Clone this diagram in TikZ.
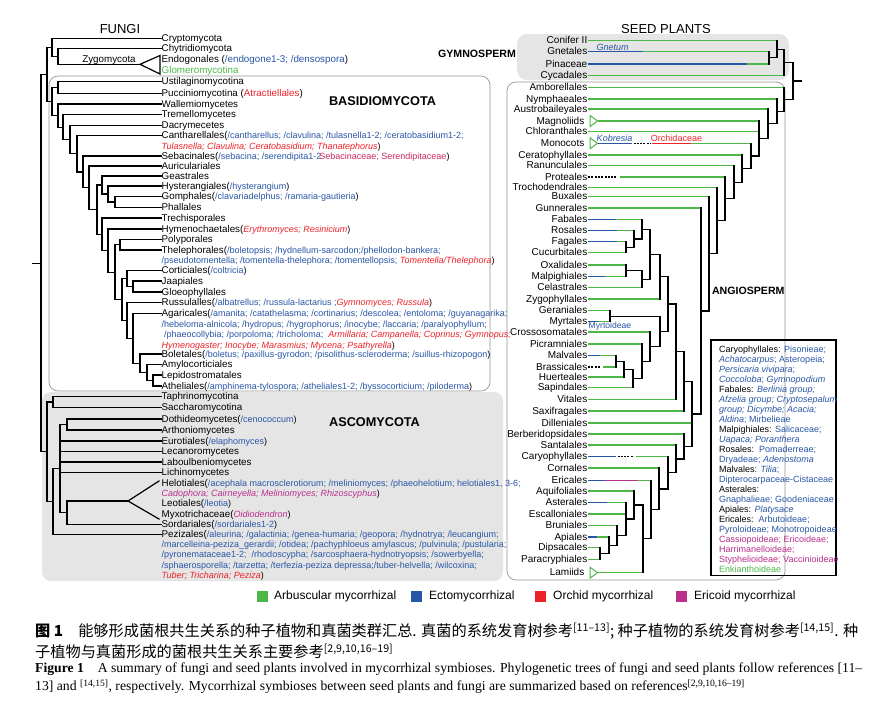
\documentclass[tikz,border=0pt]{standalone}
\usepackage{graphicx}
\usepackage{fontspec}
\setmainfont{Liberation Sans}
\newfontfamily\serifen{Liberation Serif}
\newfontfamily\cjk{Noto Sans CJK SC}
\definecolor{amg}{RGB}{77,184,72}
\definecolor{ecb}{RGB}{40,86,166}
\definecolor{orr}{RGB}{236,34,40}
\definecolor{erm}{RGB}{186,46,140}
\definecolor{seb}{RGB}{206,40,100}
\definecolor{boxg}{RGB}{229,229,229}
\definecolor{boxl}{RGB}{150,150,150}
\newcommand\eb[1]{\textcolor{ecb}{#1}}
\newcommand\ebi[1]{\textcolor{ecb}{\itshape #1}}
\newcommand\ri[1]{\textcolor{orr}{\itshape #1}}
\newcommand\mgi[1]{\textcolor{erm}{\itshape #1}}
\newcommand\an{\fontsize{9}{9}\selectfont}
\newcommand\cladeNode[4]{\draw[br] (#1,#2) -- (#1,#3) (#1,{(#2+#3)/2}) -- (#4,{(#2+#3)/2});}
\tikzset{
 br/.style={line width=1.2pt, black, line cap=rect},
 gbr/.style={line width=1.4pt, amg},
 bbr/.style={line width=1.4pt, ecb},
 rbr/.style={line width=1.4pt, orr},
 mbr/.style={line width=1.4pt, erm},
 dsh/.style={line width=1.1pt, black, dash pattern=on 2pt off 1.3pt},
 tri/.style={line width=1pt, amg},
 fl/.style={anchor=west, inner sep=0.5pt, text height=7.2pt, text depth=0.8pt, font=\fontsize{9.8}{10}\selectfont},
 sl/.style={anchor=east, inner sep=0.5pt, text height=7.2pt, text depth=0.8pt, font=\fontsize{10}{10}\selectfont},
 lg/.style={anchor=west, inner sep=0pt, text height=6.5pt, text depth=0.5pt, font=\fontsize{9}{9}\selectfont},
 lgb/.style={anchor=west, inner sep=0pt, font=\fontsize{12}{12}\selectfont},
 ttl/.style={font=\fontsize{13}{13}\selectfont},
 bttl/.style={font=\bfseries\fontsize{12.7}{13}\selectfont},
 sttl/.style={font=\bfseries\fontsize{10.6}{11}\selectfont},
}
\begin{document}
\begin{tikzpicture}[x=1pt,y=-1pt]
\useasboundingbox (0,0) rectangle (888,705);
\fill[white] (0,0) rectangle (888,705);
% ---------- boxes
\fill[boxg, rounded corners=9pt] (42,392) rectangle (503,581);
\draw[boxl, line width=0.7pt, rounded corners=9pt] (49,76) rectangle (490,391);
\fill[boxg, rounded corners=10pt] (517,34) rectangle (789,80);
\draw[boxl, line width=0.7pt, rounded corners=9pt] (507,82) rectangle (785,580);
% ---------- titles
\node[ttl] (tF) at (120,29) {FUNGI};
\node[ttl] (tS) at (666,29) {SEED PLANTS};
\node[bttl] (tB) at (382.5,101.5) {BASIDIOMYCOTA};
\node[bttl] (tA) at (374.5,422.3) {ASCOMYCOTA};
\node[sttl] (tG) at (477,54.3) {GYMNOSPERM};
\node[sttl] (tAn) at (748.3,290.7) {ANGIOSPERM};
% ---------- fungi labels
\node[fl] (f1) at (161,38.5) {Cryptomycota};
\node[fl] (f2) at (161,48.5) {Chytridiomycota};
\node[fl] (f3) at (161,59) {Endogonales (\eb{/endogone1-3; /densospora})};
\node[fl] (f3b) at (161,70.5) {\textcolor{amg}{Glomeromycotina}};
\node[fl] (f4) at (161,81.5) {Ustilaginomycotina};
\node[fl] (f5) at (161,93.5) {Pucciniomycotina (\textcolor{orr}{Atractiellales})};
\node[fl] (f6) at (161,104) {Wallemiomycetes};
\node[fl] (f7) at (161,114.7) {Tremellomycetes};
\node[fl] (f8) at (161,125.3) {Dacrymecetes};
\node[fl] (f9) at (161,135.5) {Cantharellales(\an\eb{/cantharellus; /clavulina; /tulasnella1-2; /ceratobasidium1-2;}};
\node[fl] (f9b) at (161,146) {\an\ri{Tulasnella; Clavulina; Ceratobasidium; Thanatephorus})};
\node[fl] (f10) at (161,156) {Sebacinales(\an\eb{/sebacina; /serendipita1-2}\kern-2pt\textcolor{seb}{Sebacinaceae; Serendipitaceae})};
\node[fl] (f11) at (161,166) {Auriculariales};
\node[fl] (f12) at (161,176) {Geastrales};
\node[fl] (f13) at (161,186) {Hysterangiales(\an\eb{/hysterangium})};
\node[fl] (f14) at (161,196.5) {Gomphales(\an\eb{/clavariadelphus; /ramaria-gautieria})};
\node[fl] (f15) at (161,207.5) {Phallales};
\node[fl] (f16) at (161,218) {Trechisporales};
\node[fl] (f17) at (161,229) {Hymenochaetales(\an\ri{Erythromyces; Resinicium})};
\node[fl] (f18) at (161,239.5) {Polyporales};
\node[fl] (f19) at (161,250) {Thelephorales(\an\eb{/boletopsis; /hydnellum-sarcodon;/phellodon-bankera;}};
\node[fl] (f19b) at (161,260) {\an\eb{/pseudotomentella; /tomentella-thelephora; /tomentellopsis; }\ri{Tomentella/Thelephora})};
\node[fl] (f20) at (161,270.5) {Corticiales(\an\eb{/coltricia})};
\node[fl] (f21) at (161,281) {Jaapiales};
\node[fl] (f22) at (161,292) {Gloeophyllales};
\node[fl] (f23) at (161,302.5) {Russulalles(\an\eb{/albatrellus; /russula-lactarius ;}\ri{Gymnomyces; Russula})};
\node[fl] (f24) at (161,313.5) {Agaricales(\an\eb{ /amanita; /catathelasma; /cortinarius; /descolea; /entoloma; /guyanagarika;}};
\node[fl] (f24b) at (161,324) {\an\eb{/hebeloma-alnicola; /hydropus; /hygrophorus; /inocybe; /laccaria; /paralyophyllum;}};
\node[fl] (f24c) at (161,334.5) {\an\eb{\ /phaeocollybia; /porpoloma; /tricholoma;\ \ }\ri{Armillaria; Campanella; Coprinus; Gymnopus;}};
\node[fl] (f24d) at (161,345) {\an\ri{Hymenogaster; Inocybe; Marasmius; Mycena; Psathyrella})};
\node[fl] (f25) at (161,354) {Boletales(\an\eb{/boletus; /paxillus-gyrodon; /pisolithus-scleroderma; /suillus-rhizopogon})};
\node[fl] (f26) at (161,364.5) {Amylocorticiales};
\node[fl] (f27) at (161,375) {Lepidostromatales};
\node[fl] (f28) at (161,386) {Atheliales(\an\eb{/amphinema-tylospora; /atheliales1-2; /byssocorticium; /piloderma})};
\node[fl] (f29) at (161,396.5) {Taphrinomycotina};
\node[fl] (f30) at (161,407.5) {Saccharomycotina};
\node[fl] (f31) at (161,419) {Dothideomycetes(\an\eb{/cenococcum})};
\node[fl] (f32) at (161,430) {Arthoniomycetes};
\node[fl] (f33) at (161,441) {Eurotiales(\an\eb{/elaphomyces})};
\node[fl] (f34) at (161,451.5) {Lecanoromycetes};
\node[fl] (f35) at (161,462) {Laboulbeniomycetes};
\node[fl] (f36) at (161,472.5) {Lichinomycetes};
\node[fl] (f37) at (161,483) {Helotiales(\an\eb{/acephala macrosclerotiorum; /meliniomyces; /phaeohelotium; helotiales1, 3-6;}};
\node[fl] (f37b) at (161,493) {\an\mgi{Cadophora; Cairneyella; Meliniomyces; Rhizoscyphus})};
\node[fl] (f38) at (161,503) {Leotiales(\an\eb{/leotia})};
\node[fl] (f39) at (161,514.5) {Myxotrichaceae(\an\mgi{Oidiodendron})};
\node[fl] (f40) at (161,524.5) {Sordariales(\an\eb{/sordariales1-2})};
\node[fl] (f41) at (161,534.5) {Pezizales(\an\eb{/aleurina; /galactinia; /genea-humaria; /geopora; /hydnotrya; /leucangium;}};
\node[fl] (f41b) at (161,544.5) {\an\eb{/marcelleina-peziza\_gerardii; /otidea; /pachyphloeus amylascus; /pulvinula; /pustularia;}};
\node[fl] (f41c) at (161,554.5) {\an\eb{/pyronemataceae1-2;\ \ /rhodoscypha; /sarcosphaera-hydnotryopsis; /sowerbyella;}};
\node[fl] (f41d) at (161,565) {\an\eb{/sphaerosporella; /tarzetta; /terfezia-peziza depressa;/tuber-helvella; /wilcoxina;}};
\node[fl] (f41e) at (161,575) {\an\ri{Tuber; Tricharina; Peziza})};
\node[fl, anchor=center] (zyg) at (109,58.8) {Zygomycota};
% ---------- fungi tree
\foreach \n/\x/\y in {f1/52/38.5, f2/58/48.5, f4/58/81.5, f5/58/93.5, f6/58/104, f7/63/114.7, f8/70/125.3,
  f9/77/135.5, f10/83/156, f11/89/166, f12/102/176, f13/108/186, f14/115/196.5, f15/115/207.5,
  f16/102/218, f17/108/229, f18/120/239.5, f19/120/250, f20/127/270.5, f21/133/281, f22/133/292,
  f23/127/302.5, f24/133/313.5, f25/140/354, f26/147/364.5, f27/153/375, f28/153/386,
  f29/53/396.5, f30/53/407.5, f31/67/419, f32/67/430, f33/60/441, f34/60/451.5, f35/60/462,
  f36/60/472.5, f40/67/524.5, f41/53/534.5}
  {\draw[br] (\x,\y) -- (\n.west);}
\draw[br] (58,64.3) -- (140,64.3);
\draw[br, line join=miter] (140,64.3) -- (160,55.5) -- (160,74) -- cycle;
\draw[br] (67,501) -- (128,501);
\draw[br] (159,481) -- (128,501) -- (159,519);
\cladeNode{58}{48.5}{64.3}{52}
\cladeNode{52}{38.5}{56.4}{47}
\cladeNode{58}{81.5}{93.5}{52}
\cladeNode{153}{375}{386}{147}
\cladeNode{147}{364.5}{380.5}{140}
\cladeNode{140}{354}{372.5}{133}
\cladeNode{133}{313.5}{363.25}{127}
\cladeNode{127}{302.5}{338.375}{122}
\cladeNode{133}{281}{292}{127}
\cladeNode{127}{270.5}{286.5}{122}
\cladeNode{122}{278.5}{320.44}{115}
\cladeNode{120}{239.5}{250}{115}
\cladeNode{115}{244.75}{299.47}{108}
\cladeNode{108}{229}{272.11}{102}
\cladeNode{102}{218}{250.55}{97}
\cladeNode{115}{196.5}{207.5}{108}
\cladeNode{108}{186}{202}{102}
\cladeNode{102}{176}{194}{97}
\cladeNode{97}{185}{234.28}{89}
\cladeNode{89}{166}{209.64}{83}
\cladeNode{83}{156}{187.82}{77}
\cladeNode{77}{135.5}{171.91}{70}
\cladeNode{70}{125.3}{153.7}{63}
\cladeNode{63}{114.7}{139.5}{58}
\cladeNode{58}{104}{127.1}{52}
\cladeNode{52}{87.5}{115.55}{47}
\cladeNode{47}{47.45}{101.53}{41}
\cladeNode{53}{396.5}{407.5}{47}
\cladeNode{67}{419}{430}{60}
\cladeNode{67}{501}{524.5}{60}
\cladeNode{60}{424.5}{512.75}{53}
\cladeNode{53}{468.63}{534.5}{47}
\cladeNode{47}{402}{501.56}{41}
\cladeNode{41}{74.49}{451.78}{33}
% ---------- seed plant labels
\node[sl] (sCon) at (588,40.7) {Conifer II};
\node[sl] (sGne) at (588,51.7) {Gnetales};
\node[sl] (sPin) at (588,64) {Pinaceae};
\node[sl] (sCyc) at (588,75.7) {Cycadales};
\node[sl] (sAmb) at (588,87.7) {Amborellales};
\node[sl] (sNym) at (588,99) {Nymphaeales};
\node[sl] (sAus) at (588,109) {Austrobaileyales};
\node[sl] (sMag) at (585,121) {Magnoliids};
\node[sl] (sChl) at (588,131.7) {Chloranthales};
\node[sl] (sMon) at (585,143.3) {Monocots};
\node[sl] (sCer) at (588,155) {Ceratophyllales};
\node[sl] (sRan) at (588,165.7) {Ranunculales};
\node[sl] (sPro) at (588,177) {Proteales};
\node[sl] (sTro) at (588,187.3) {Trochodendrales};
\node[sl] (sBux) at (588,196.7) {Buxales};
\node[sl] (sGun) at (588,208) {Gunnerales};
\node[sl] (sFab) at (588,219.3) {Fabales};
\node[sl] (sRos) at (588,230.7) {Rosales};
\node[sl] (sFag) at (588,241.7) {Fagales};
\node[sl] (sCuc) at (588,252.7) {Cucurbitales};
\node[sl] (sOxa) at (588,265) {Oxalidales};
\node[sl] (sMal) at (588,276.7) {Malpighiales};
\node[sl] (sCel) at (588,287.7) {Celastrales};
\node[sl] (sZyg) at (588,299) {Zygophyllales};
\node[sl] (sGer) at (588,310.7) {Geraniales};
\node[sl] (sMyr) at (588,321.7) {Myrtales};
\node[sl] (sCro) at (588,332) {Crossosomatales};
\node[sl] (sPic) at (588,344) {Picramniales};
\node[sl] (sMlv) at (588,355.7) {Malvales};
\node[sl] (sBra) at (588,367) {Brassicales};
\node[sl] (sHue) at (588,377) {Huerteales};
\node[sl] (sSap) at (588,387.7) {Sapindales};
\node[sl] (sVit) at (588,399.3) {Vitales};
\node[sl] (sSax) at (588,411) {Saxifragales};
\node[sl] (sDil) at (588,423) {Dilleniales};
\node[sl] (sBer) at (588,434) {Berberidopsidales};
\node[sl] (sSan) at (588,445) {Santalales};
\node[sl] (sCar) at (588,456.7) {Caryophyllales};
\node[sl] (sCor) at (588,468) {Cornales};
\node[sl] (sEri) at (588,480.7) {Ericales};
\node[sl] (sAqu) at (588,491) {Aquifoliales};
\node[sl] (sAst) at (588,502.7) {Asterales};
\node[sl] (sEsc) at (588,514) {Escalloniales};
\node[sl] (sBru) at (588,525.7) {Bruniales};
\node[sl] (sApi) at (588,537) {Apiales};
\node[sl] (sDip) at (588,547.7) {Dipsacales};
\node[sl] (sPar) at (588,559.3) {Paracryphiales};
\node[sl] (sLam) at (585,572.7) {Lamiids};
% ---------- seed plant green branches
\foreach \n/\x/\y in {sCon/777/40.7, sGne/769/51.7, sPin/769/64, sCyc/784/75.7, sAmb/784/87.7,
  sNym/777/99, sAus/768/109, sChl/759/131.7, sCer/742/155, sRan/734/165.7, sTro/717/187.3,
  sBux/709/196.7, sGun/701/208, sFab/642/219.3, sRos/634/230.7, sFag/626/241.7, sCuc/626/252.7,
  sOxa/626/265, sMal/626/276.7, sCel/642/287.7, sZyg/660/299, sGer/610/310.7, sMyr/610/321.7,
  sCro/650/332, sPic/642/344, sMlv/616/355.7, sHue/624/377, sSap/633/387.7, sVit/676/399.3,
  sSax/684/411, sDil/692/423, sBer/684/434, sSan/676/445, sCor/659/468, sEri/651/480.7,
  sAqu/634/491, sAst/626/502.7, sEsc/626/514, sBru/617/525.7, sApi/609/537, sDip/600/547.7,
  sPar/600/559.3}
  {\draw[gbr] (\n.east) -- (\x,\y);}
% triangles
\draw[tri] (590,115.5) -- (597.5,121) -- (590,126.5) -- cycle;
\draw[gbr] (597.5,121) -- (759,121);
\draw[tri] (590,137.8) -- (597.5,143.3) -- (590,148.8) -- cycle;
\draw[bbr] (597.5,143.3) -- (632,143.3);
\draw[dsh] (633.5,143.3) -- (651,143.3);
\draw[rbr] (652,143.3) -- (691,143.3);
\draw[gbr] (691,143.3) -- (751,143.3);
\draw[tri] (590,567.2) -- (597.5,572.7) -- (590,578.2) -- cycle;
\draw[gbr] (597.5,572.7) -- (643,572.7);
% dashed / coloured segments
\draw[dsh] (sPro.east) -- (617,177);
\draw[gbr] (620,177) -- (725,177);
\draw[dsh] (sBra.east) -- (601,367);
\draw[gbr] (603,367) -- (616,367);
\draw[bbr] (sCar.east) -- (616,456.7);
\draw[dsh] (617.5,456.7) -- (634,456.7);
\draw[gbr] (635.5,456.7) -- (668,456.7);
\draw[bbr] (sGne.east) -- (643,51.7);
\draw[bbr] (sPin.east) -- (747,64);
\draw[bbr] (sFab.east) -- (616,219.3);
\draw[bbr] (sRos.east) -- (617,230.7);
\draw[bbr] (sFag.east) -- (617,241.7);
\draw[bbr] (sMal.east) -- (605,276.7);
\draw[bbr] (sMyr.east) -- (598,321.7);
\draw[bbr] (sMlv.east) -- (600,355.7);
\draw[bbr] (sAst.east) -- (607,502.7);
\draw[bbr] (sApi.east) -- (597,537);
\draw[bbr] (sEri.east) -- (605,480.7);
\draw[mbr] (605,480.7) -- (638,480.7);
% small labels on branches
\node[anchor=base, inner sep=0pt, font=\itshape\fontsize{9}{9}\selectfont, text=ecb] (lGn) at (612.5,50.6) {Gnetum};
\node[anchor=base, inner sep=0pt, font=\itshape\fontsize{9}{9}\selectfont, text=ecb] (lKo) at (614.5,141.6) {Kobresia};
\node[anchor=base, inner sep=0pt, font=\fontsize{9}{9}\selectfont, text=orr] (lOr) at (676.5,141.6) {Orchidaceae};
\node[anchor=center, inner sep=0pt, font=\fontsize{8.6}{9}\selectfont, text=ecb] (lMy) at (610,326.5) {Myrtoideae};
% ---------- seed plant tree nodes
\cladeNode{769}{51.7}{64}{777}
\cladeNode{777}{40.7}{57.85}{784}
\cladeNode{784}{49.275}{75.7}{793}
\cladeNode{600}{547.7}{559.3}{609}
\cladeNode{609}{537}{553.5}{617}
\cladeNode{617}{525.7}{545.25}{626}
\cladeNode{626}{502.7}{535.475}{634}
\cladeNode{634}{491}{519.09}{643}
\cladeNode{643}{505.04}{572.7}{651}
\cladeNode{651}{480.7}{538.87}{659}
\cladeNode{659}{468}{509.79}{668}
\cladeNode{668}{456.7}{488.9}{676}
\cladeNode{676}{445}{472.8}{684}
\cladeNode{684}{434}{458.9}{692}
\cladeNode{626}{241.7}{252.7}{634}
\cladeNode{634}{230.7}{247.2}{642}
\cladeNode{642}{219.3}{238.95}{650}
\cladeNode{626}{265}{276.7}{642}
\cladeNode{642}{270.85}{287.7}{650}
\cladeNode{650}{229.125}{279.275}{660}
\cladeNode{660}{254.2}{299}{668}
\cladeNode{610}{310.7}{321.7}{660}
\cladeNode{616}{355.7}{367}{624}
\cladeNode{624}{361.35}{377}{633}
\cladeNode{633}{369.175}{387.7}{642}
\cladeNode{642}{344}{378.44}{650}
\cladeNode{650}{332}{361.22}{660}
\cladeNode{660}{316.2}{346.61}{668}
\cladeNode{668}{276.6}{331.4}{676}
\cladeNode{676}{304}{399.3}{684}
\cladeNode{684}{351.65}{411}{692}
\cladeNode{692}{381.33}{446.45}{701}
\cladeNode{701}{208}{413.89}{709}
\cladeNode{709}{196.7}{310.94}{717}
\cladeNode{717}{187.3}{253.82}{725}
\cladeNode{725}{177}{220.56}{734}
\cladeNode{734}{165.7}{198.78}{742}
\cladeNode{742}{155}{182.24}{751}
\cladeNode{751}{143.3}{168.62}{759}
\cladeNode{759}{121}{155.96}{768}
\cladeNode{768}{109}{138.48}{777}
\cladeNode{777}{99}{123.74}{784}
\cladeNode{784}{87.7}{111.37}{793}
\cladeNode{793}{62.49}{99.535}{801}
% ---------- legend box
\draw[black, line width=1.1pt] (711,340) rectangle (836,575.5);
\node[lg] (k1) at (719,349) {Caryophyllales: \eb{Pisonieae;}};
\node[lg] (k2) at (719,359) {\ebi{Achatocarpus}\eb{; Asteropeia;}};
\node[lg] (k3) at (719,369) {\ebi{Persicaria vivipara}\eb{;}};
\node[lg] (k4) at (719,379) {\ebi{Coccoloba}\eb{; }\ebi{Gymnopodium}};
\node[lg] (k5) at (719,389) {Fabales: \ebi{Berlinia group;}};
\node[lg] (k6) at (719,399) {\ebi{Afzelia group; Cryptosepalum}};
\node[lg] (k7) at (719,409) {\ebi{group; Dicymbe; Acacia;}};
\node[lg] (k8) at (719,419) {\ebi{Aldina}\eb{; Mirbelieae}};
\node[lg] (k9) at (719,429) {Malpighiales: \eb{Salicaceae;}};
\node[lg] (k10) at (719,439) {\ebi{Uapaca; Poranthera}};
\node[lg] (k11) at (719,449) {Rosales:\ \ \eb{Pomaderreae;}};
\node[lg] (k12) at (719,459) {\eb{Dryadeae; }\ebi{Adenostoma}};
\node[lg] (k13) at (719,469) {Malvales: \ebi{Tilia}\eb{;}};
\node[lg] (k14) at (719,479) {\eb{Dipterocarpaceae-Cistaceae}};
\node[lg] (k15) at (719,489) {Asterales:};
\node[lg] (k16) at (719,499) {\eb{Gnaphalieae; Goodeniaceae}};
\node[lg] (k17) at (719,509) {Apiales: \ebi{Platysace}};
\node[lg] (k18) at (719,519) {Ericales:\ \ \eb{Arbutoideae;}};
\node[lg] (k19) at (719,529) {\eb{Pyroloideae; Monotropoideae}};
\node[lg] (k20) at (719,539) {\textcolor{erm}{Cassiopoideae; Ericoideae;}};
\node[lg] (k21) at (719,549) {\textcolor{erm}{Harrimanelloideae;}};
\node[lg] (k22) at (719,559) {\textcolor{erm}{Styphelioideae; Vaccinioideae}};
\node[lg] (k23) at (719,569) {\textcolor{amg}{Enkianthoideae}};
% ---------- bottom legend
\fill[amg] (257,591) rectangle (268,602);
\node[lgb] (L1) at (274,596.5) {Arbuscular mycorrhizal};
\fill[ecb] (411,591) rectangle (422,602);
\node[lgb] (L2) at (429,596.5) {Ectomycorrhizal};
\fill[orr] (535,591) rectangle (546,602);
\node[lgb] (L3) at (553,596.5) {Orchid mycorrhizal};
\fill[erm] (676,591) rectangle (687,602);
\node[lgb] (L4) at (694,596.5) {Ericoid mycorrhizal};
% ---------- caption
\node[anchor=north west, inner sep=0pt] (cap1) at (35,622) {\resizebox{823pt}{!}{\cjk\fontsize{15}{20.5}\selectfont\begin{tabular}{@{}l@{}}{\bfseries 图 1}\quad 能够形成菌根共生关系的种子植物和真菌类群汇总. 真菌的系统发育树参考\textsuperscript{[11–13]}; 种子植物的系统发育树参考\textsuperscript{[14,15]}. 种\\ 子植物与真菌形成的菌根共生关系主要参考\textsuperscript{[2,9,10,16–19]}\end{tabular}}};
\node[anchor=north west, inner sep=0pt] (cap2) at (35,659) {\resizebox{827pt}{!}{\serifen\fontsize{12.5}{17}\selectfont\begin{tabular}{@{}l@{}}\textbf{Figure 1}\quad A summary of fungi and seed plants involved in mycorrhizal symbioses. Phylogenetic trees of fungi and seed plants follow references [11–\\ 13] and \textsuperscript{[14,15]}, respectively. Mycorrhizal symbioses between seed plants and fungi are summarized based on references\textsuperscript{[2,9,10,16–19]}\end{tabular}}};
\end{tikzpicture}
\end{document}
